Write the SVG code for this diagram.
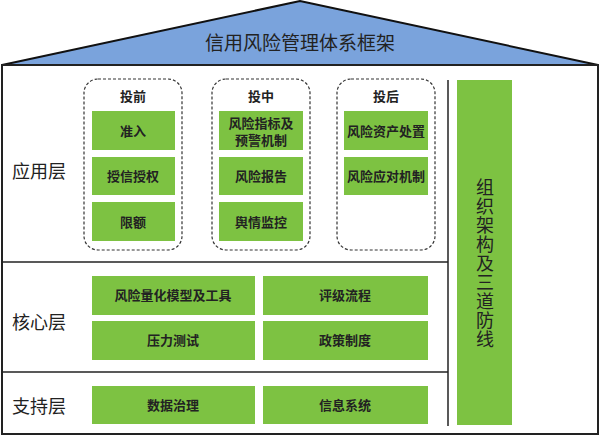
<svg xmlns="http://www.w3.org/2000/svg" width="600" height="436" viewBox="0 0 600 436">
<style>
.g{fill:#7dc242}
.t{font-family:"Liberation Serif","Noto Sans CJK SC",serif;font-weight:bold;font-size:13px;fill:#222;text-anchor:middle}
.l{font-family:"Noto Sans CJK SC",sans-serif;font-size:18px;fill:#222}
.d{fill:none;stroke:#333;stroke-width:1.2;stroke-dasharray:3,2}
</style>
<rect width="600" height="436" fill="#fff"/>
<g id="roof"><polygon points="2,65 300,1 598,65" fill="#7aa3dc" stroke="#111" stroke-width="2"/>
<text x="300" y="50" class="l" text-anchor="middle" style="font-size:19px">信用风险管理体系框架</text></g>
<g id="frame" fill="none" stroke="#222" stroke-width="2">
<rect x="2" y="65" width="596" height="369"/>
<line x1="448" y1="80" x2="448" y2="426" stroke-width="1.5"/>
<line x1="3" y1="262" x2="448" y2="262" stroke-width="1.5"/>
<line x1="3" y1="372" x2="448" y2="372" stroke-width="1.5"/>
</g>
<g id="labels"><text x="12" y="178" class="l">应用层</text><text x="12" y="329" class="l">核心层</text><text x="12" y="413" class="l">支持层</text></g>
<g id="pre"><rect class="d" x="84" y="79" width="98" height="171" rx="14"/><text class="t" x="133" y="101">投前</text>
<rect class="g" x="92" y="111" width="83" height="39"/><text class="t" x="133" y="136">准入</text>
<rect class="g" x="92" y="157" width="83" height="38"/><text class="t" x="133" y="181">授信授权</text>
<rect class="g" x="92" y="202" width="83" height="39"/><text class="t" x="133" y="227">限额</text></g>
<g id="mid"><rect class="d" x="212" y="79" width="98" height="171" rx="14"/><text class="t" x="261" y="101">投中</text>
<rect class="g" x="219" y="111" width="84" height="39"/><text class="t" x="261" y="128">风险指标及</text><text class="t" x="261" y="145">预警机制</text>
<rect class="g" x="219" y="157" width="84" height="38"/><text class="t" x="261" y="181">风险报告</text>
<rect class="g" x="219" y="202" width="84" height="39"/><text class="t" x="261" y="227">舆情监控</text></g>
<g id="post"><rect class="d" x="337" y="79" width="98" height="171" rx="14"/><text class="t" x="386" y="101">投后</text>
<rect class="g" x="344" y="111" width="84" height="39"/><text class="t" x="386" y="136">风险资产处置</text>
<rect class="g" x="344" y="157" width="84" height="38"/><text class="t" x="386" y="181">风险应对机制</text></g>
<g id="core">
<rect class="g" x="92" y="276" width="163" height="39"/><text class="t" x="173" y="300">风险量化模型及工具</text>
<rect class="g" x="263" y="276" width="165" height="39"/><text class="t" x="345" y="300">评级流程</text>
<rect class="g" x="92" y="321" width="163" height="39"/><text class="t" x="173" y="345">压力测试</text>
<rect class="g" x="263" y="321" width="165" height="39"/><text class="t" x="345" y="345">政策制度</text></g>
<g id="support">
<rect class="g" x="92" y="386" width="163" height="38"/><text class="t" x="173" y="410">数据治理</text>
<rect class="g" x="263" y="386" width="165" height="38"/><text class="t" x="345" y="410">信息系统</text></g>
<g id="org"><rect class="g" x="457" y="80" width="55" height="345"/>
<text class="l" x="485" y="194" text-anchor="middle" style="font-size:18px">
<tspan x="485" dy="0">组</tspan><tspan x="485" dy="19">织</tspan><tspan x="485" dy="19">架</tspan><tspan x="485" dy="19">构</tspan><tspan x="485" dy="19">及</tspan><tspan x="485" dy="19">三</tspan><tspan x="485" dy="19">道</tspan><tspan x="485" dy="19">防</tspan><tspan x="485" dy="19">线</tspan></text></g>
</svg>
